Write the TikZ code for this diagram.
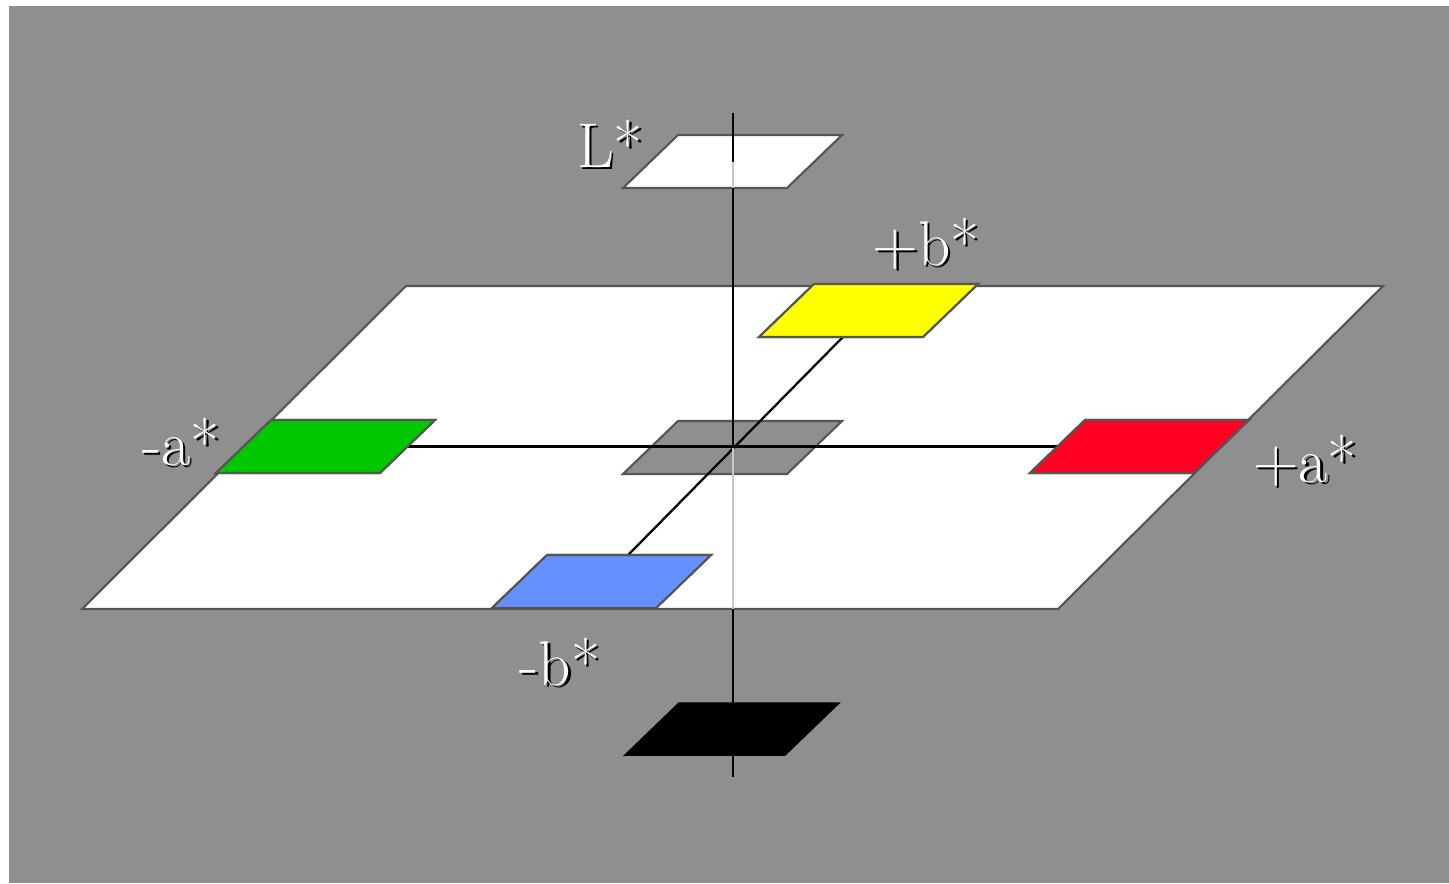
\documentclass[tikz,border=0pt]{standalone}
\usepackage{tikz}
\usetikzlibrary{calc}
\usepackage{xcolor}

\definecolor{bggray}{RGB}{143,143,143}
\definecolor{edgegray}{RGB}{85,85,85}
\definecolor{axislight}{RGB}{200,200,200}
\definecolor{labgreen}{RGB}{0,200,0}
\definecolor{labred}{RGB}{255,0,34}
\definecolor{labyellow}{RGB}{255,255,0}
\definecolor{labblue}{RGB}{102,144,255}

% white text with a dark drop shadow
\newcommand{\shadowtext}[1]{\rlap{\kern1.4pt\raisebox{-1.4pt}{\textcolor{black}{#1}}}\textcolor{white}{#1}}

% colour patch: name, centre
\newcommand{\patch}[3][]{%
  \coordinate (#2) at (#3);
  \draw[patch, shift={(#2)}, #1] (-55,-26.5) -- (109,-26.5) -- (54,26.5) -- (-110,26.5) -- cycle;
}

\begin{document}
\begin{tikzpicture}[
        x=0.02cm, y=-0.02cm,
        patch/.style={draw=edgegray, line width=1.2pt, line join=miter},
        axis/.style={line width=1.3pt, black},
        axisback/.style={line width=1.3pt, axislight},
        lbl/.style={inner sep=0pt, font=\fontsize{36}{42}\selectfont}
    ]
        \useasboundingbox (0,0) rectangle (1449,883);
        \fill[bggray] (9,6) rectangle (1449,883);

        % a*b* plane
        \draw[patch, fill=white] (406,286) -- (1383,286) -- (1058,609) -- (82,609) -- cycle;

        % neutral centre
        \patch[fill=bggray]{grey}{733,447.5}

        % a* and b* axes
        \coordinate (centre) at (733,448);
        \patch[fill=labgreen]{green}{326,446.5}
        \patch[fill=labred]{red}{1140,446.5}
        \draw[axis] (green) -- (red);
        \patch[fill=labyellow]{yellow}{869,310.5}
        \patch[fill=labblue]{blue}{602,581.5}
        \draw[axis] (blue) -- (yellow);
        % redraw patches over the axes
        \patch[fill=labgreen]{green}{326,446.5}
        \patch[fill=labred]{red}{1140,446.5}
        \patch[fill=labyellow]{yellow}{869,310.5}
        \patch[fill=labblue]{blue}{602,581.5}

        % L* patch
        \patch[fill=white]{white}{733,161.5}

        % L* axis
        \coordinate (ltop) at (733,113);
        \coordinate (lwhite) at (733,188);
        \coordinate (lplane) at (733,609);
        \coordinate (lbot) at (733,777);
        \draw[axis] (ltop) -- (white);
        \draw[axisback] (white) -- (lwhite);
        \draw[axis] (lwhite) -- (centre);
        \draw[axisback] (centre) -- (lplane);
        \draw[axis] (lplane) -- (lbot);

        % black patch
        \patch[fill=black, draw=black, scale=0.97]{black}{732.5,729}

        % Labels
        \node[lbl] (lstar) at (610,145) {\shadowtext{L*}};
        \node[lbl] (bplus) at (926,245) {\shadowtext{+b*}};
        \node[lbl] (aminus) at (181,443) {\shadowtext{-a*}};
        \node[lbl] (aplus) at (1305,462) {\shadowtext{+a*}};
        \node[lbl] (bminus) at (560,663) {\shadowtext{-b*}};
    \end{tikzpicture}
\end{document}
